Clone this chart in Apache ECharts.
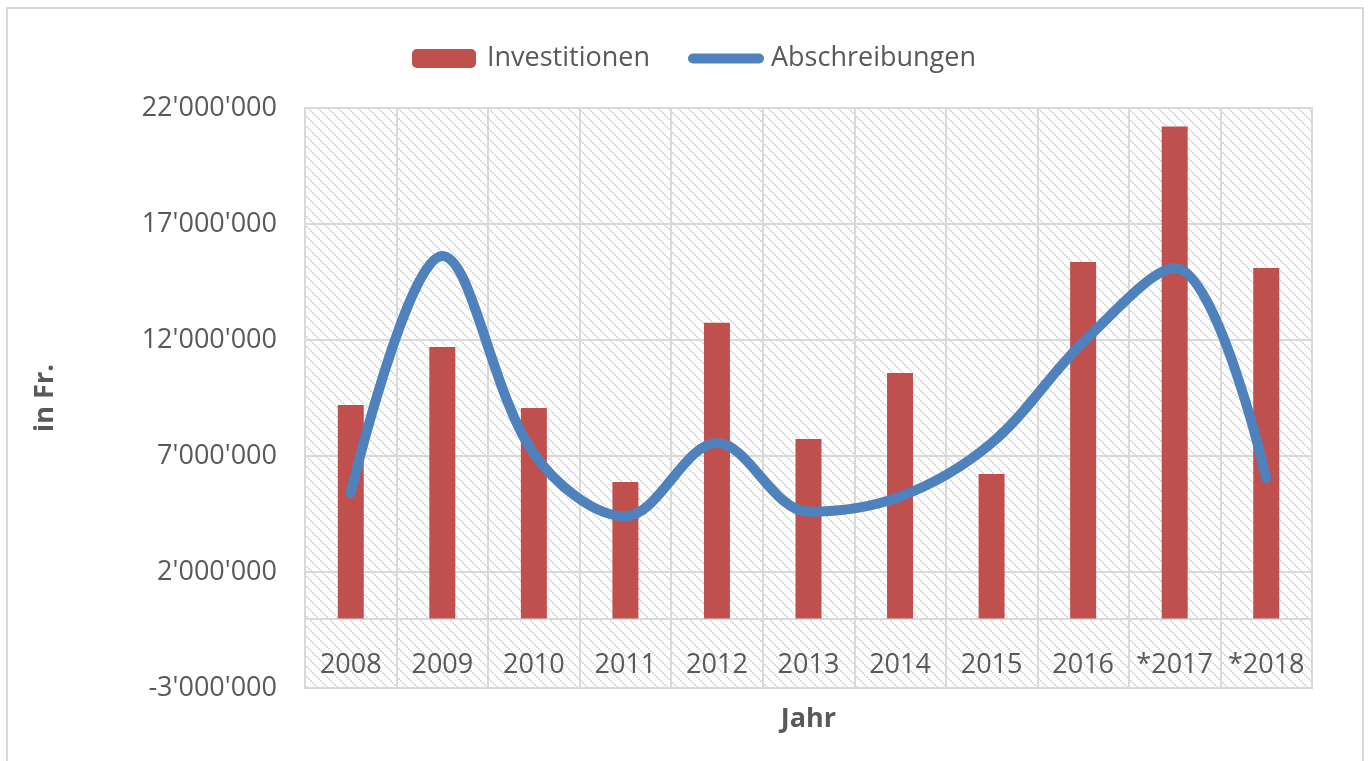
<!DOCTYPE html>
<html>
<head>
<meta charset="utf-8">
<title>Investitionen und Abschreibungen</title>
<script src="https://cdn.jsdelivr.net/npm/echarts@6/dist/echarts.min.js"></script>
<style>
  html, body { margin: 0; padding: 0; background: #fff; }
  #main { width: 1370px; height: 761px; }
</style>
</head>
<body>
<div id="main"></div>
<script>
  // Daten
  var jahre = ['2008', '2009', '2010', '2011', '2012', '2013', '2014', '2015', '2016', '*2017', '*2018'];
  var investitionen = [9200000, 11700000, 9070000, 5880000, 12740000, 7730000, 10580000, 6220000, 15360000, 21200000, 15100000];
  var abschreibungen = [5400000, 15620000, 7100000, 4400000, 7560000, 4600000, 5250000, 7560000, 11900000, 15100000, 6050000];
  var yMin = -3000000, yMax = 22000000, yStep = 5000000;

  var font = '"Open Sans", "Liberation Sans", sans-serif';
  var grau = '#595959';
  var linie = '#d9d9d9';

  function tausender(v) {
    var neg = v < 0;
    var s = String(Math.abs(Math.round(v))).replace(/\B(?=(\d{3})+(?!\d))/g, "'");
    return (neg ? '-' : '') + s;
  }

  // Schraffur fuer den Plotbereich
  var muster = document.createElement('canvas');
  muster.width = 10;
  muster.height = 10;
  var ctx = muster.getContext('2d');
  ctx.fillStyle = '#ffffff';
  ctx.fillRect(0, 0, 10, 10);
  ctx.fillStyle = '#dedede';
  for (var i = 0; i < 10; i += 2) {
    ctx.fillRect(i, i, 2, 2);
  }

  var myChart = echarts.init(document.getElementById('main'));
  myChart.setOption({
    animation: false,
    textStyle: { fontFamily: font },
    graphic: [{
      type: 'rect',
      shape: { x: 7, y: 8, width: 1356, height: 800 },
      style: { fill: 'none', stroke: linie, lineWidth: 2 },
      silent: true
    }],
    legend: [
      {
        data: ['Investitionen'],
        left: 407, top: 40,
        itemWidth: 64, itemHeight: 19,
        textStyle: { color: grau, fontSize: 27, fontFamily: font, padding: [0, 0, 0, 6] }
      },
      {
        data: [{
          name: 'Abschreibungen',
          icon: 'path://M5,0H71A5,5,0,0,1,71,10H5A5,5,0,0,1,5,0Z'
        }],
        left: 683, top: 40,
        itemWidth: 76, itemHeight: 10,
        textStyle: { color: grau, fontSize: 27, fontFamily: font, padding: [0, 0, 0, 2] }
      }
    ],
    grid: {
      show: true,
      outerBoundsMode: 'none',
      left: 305, right: 58, top: 108, bottom: 73,
      backgroundColor: { image: muster, repeat: 'repeat' },
      borderColor: linie,
      borderWidth: 2
    },
    xAxis: {
      type: 'category',
      data: jahre,
      name: 'Jahr',
      nameLocation: 'middle',
      nameGap: 18,
      nameTextStyle: { color: grau, fontSize: 27, fontWeight: 'bold', fontFamily: font },
      axisLine: { show: true, onZero: true, lineStyle: { color: linie, width: 2 } },
      axisTick: { show: false },
      axisLabel: { color: grau, fontSize: 27, margin: -36, interval: 0 },
      splitLine: { show: true, lineStyle: { color: linie, width: 2 } }
    },
    yAxis: {
      type: 'value',
      min: yMin,
      max: yMax,
      interval: yStep,
      name: 'in Fr.',
      nameLocation: 'middle',
      nameRotate: 90,
      nameGap: 246,
      nameTextStyle: { color: grau, fontSize: 27, fontWeight: 'bold', fontFamily: font },
      axisLine: { show: false },
      axisTick: { show: false },
      axisLabel: { color: grau, fontSize: 27, margin: 28, formatter: tausender },
      splitLine: { show: true, lineStyle: { color: linie, width: 2 } }
    },
    series: [
      {
        name: 'Investitionen',
        type: 'bar',
        barWidth: 26,
        itemStyle: { color: '#C0504D' },
        data: investitionen
      },
      {
        name: 'Abschreibungen',
        type: 'line',
        smooth: 0.35,
        symbol: 'none',
        itemStyle: { color: '#4F81BD' },
        lineStyle: { color: '#4F81BD', width: 10, cap: 'round', join: 'round' },
        data: abschreibungen
      }
    ]
  });
  window.addEventListener('resize', myChart.resize);
</script>
</body>
</html>
